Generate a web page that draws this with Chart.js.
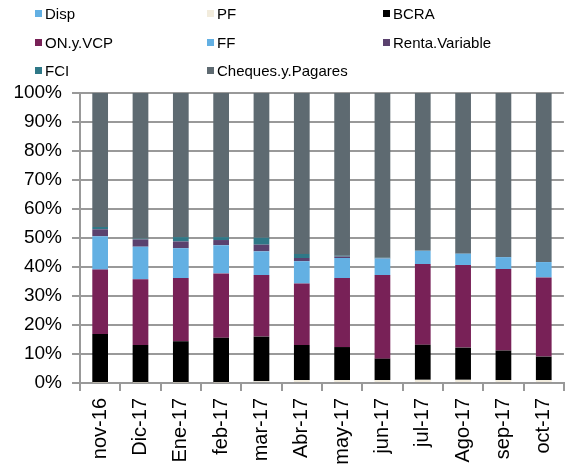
<!DOCTYPE html>
<html>
<head>
<meta charset="utf-8">
<script src="https://cdn.jsdelivr.net/npm/chart.js@4/dist/chart.umd.min.js"></script>
<style>
  body { margin: 0; overflow: hidden; background: #fff; }
  #wrap { position: relative; width: 567px; height: 469px; overflow: hidden; }
  #legend { position: absolute; left: 0; top: 0; font-family: "Liberation Sans", Arial, sans-serif; font-size: 15px; color: #000; }
  .item { position: absolute; white-space: nowrap; line-height: 18px; }
  .box { display: inline-block; width: 7px; height: 7px; margin-right: 3px; vertical-align: 2px; }
</style>
</head>
<body>
<div id="wrap">
  <canvas id="chart" width="575" height="469" style="position:absolute;left:0;top:0;"></canvas>
  <div id="legend"></div>
</div>
<script>
// months on the x axis
const months = ["nov-16", "Dic-17", "Ene-17", "feb-17", "mar-17", "Abr-17", "may-17", "jun-17", "jul-17", "Ago-17", "sep-17", "oct-17"];

// shares in % (stack order bottom -> top)
const disp     = [0, 0, 0, 0, 0, 0, 0, 0, 0, 0, 0, 0];
const pf       = [0.1, 0.1, 0.1, 0.1, 0.6, 1.0, 1.0, 1.0, 1.1, 1.1, 1.0, 1.0];
const bcra     = [16.8, 13.0, 14.3, 15.5, 15.4, 12.1, 11.4, 7.4, 12.1, 11.1, 10.2, 8.1];
const onVcp    = [22.2, 22.7, 21.8, 22.2, 21.2, 21.2, 23.8, 28.8, 27.8, 28.5, 28.1, 27.3];
const ff       = [11.5, 11.2, 10.3, 9.7, 8.2, 7.7, 6.9, 5.7, 4.6, 3.9, 4.1, 5.3];
const renta    = [2.4, 2.5, 2.3, 1.8, 2.3, 1.1, 0.5, 0.1, 0, 0, 0, 0];
const fci      = [0.8, 0.3, 1.5, 1.0, 2.4, 1.4, 0.3, 0.2, 0, 0, 0, 0];
const cheques  = [46.2, 50.2, 49.7, 49.7, 49.9, 55.5, 56.1, 56.8, 54.4, 55.4, 56.6, 58.3];

const yTicks = [0, 10, 20, 30, 40, 50, 60, 70, 80, 90, 100];

const series = [
    { label: "Disp", data: disp, color: "#63b0e3" },
    { label: "PF", data: pf, color: "#f2ecdd" },
    { label: "BCRA", data: bcra, color: "#000000" },
    { label: "ON.y.VCP", data: onVcp, color: "#782157" },
    { label: "FF", data: ff, color: "#63b0e3" },
    { label: "Renta.Variable", data: renta, color: "#5a416e" },
    { label: "FCI", data: fci, color: "#2f7887" },
    { label: "Cheques.y.Pagares", data: cheques, color: "#5e6a71" }
];

//legend: 3 columns, 3 rows
const legendCols = [35, 207, 383];
const legendRows = [5, 34, 62];
const legendEl = document.getElementById("legend");
series.forEach((s, i) => {
    const div = document.createElement("div");
    div.className = "item";
    div.style.left = legendCols[i % 3] + "px";
    div.style.top = legendRows[Math.floor(i / 3)] + "px";
    div.innerHTML = '<span class="box" style="background:' + s.color + '"></span>' + s.label;
    legendEl.appendChild(div);
});

const data = {
    labels: months,
    datasets: series.map(s => ({
        label: s.label,
        data: s.data,
        backgroundColor: s.color,
        borderWidth: 0,
        barPercentage: 0.39,
        categoryPercentage: 1
    }))
};

const fontFamily = "'Liberation Sans', Arial, sans-serif";

const options = {
    responsive: false,
    animation: false,
    layout: {
        padding: { top: 93, right: 6, left: 0, bottom: 0 }
    },
    plugins: {
        legend: { display: false },
        tooltip: { enabled: false }
    },
    scales: {
        x: {
            stacked: true,
            afterFit: (scale) => { scale.height = 86; },
            grid: {
                offset: true,
                drawOnChartArea: false,
                drawTicks: true,
                tickLength: 8,
                color: "#999999",
                lineWidth: 2
            },
            border: { color: "#999999", width: 2 },
            ticks: {
                color: "#000",
                font: { family: fontFamily, size: 20 },
                minRotation: 90,
                maxRotation: 90,
                padding: 7,
                autoSkip: false
            }
        },
        y: {
            stacked: true,
            min: 0,
            max: 100,
            afterFit: (scale) => { scale.width = 80; },
            afterBuildTicks: (scale) => { scale.ticks = yTicks.map(v => ({ value: v })); },
            grid: {
                color: "#999999",
                lineWidth: 2,
                drawTicks: true,
                tickLength: 8
            },
            border: { color: "#999999", width: 2 },
            ticks: {
                color: "#000",
                font: { family: fontFamily, size: 19 },
                padding: 10,
                callback: (v) => v + "%"
            }
        }
    }
};

new Chart(document.getElementById("chart").getContext("2d"), {
    type: "bar",
    data,
    options
});
</script>
</body>
</html>
